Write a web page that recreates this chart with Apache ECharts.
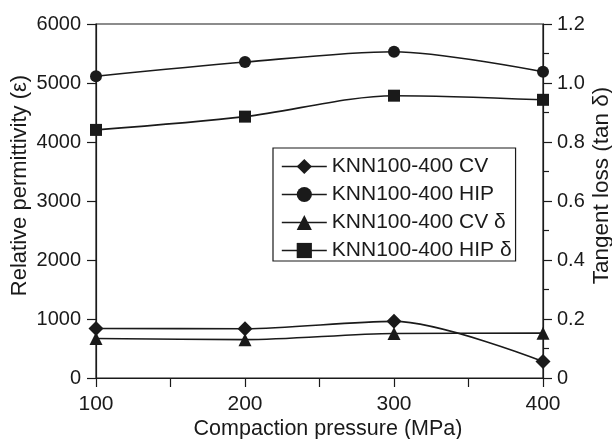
<!DOCTYPE html>
<html>
<head>
<meta charset="utf-8">
<script src="https://cdn.jsdelivr.net/npm/echarts@6/dist/echarts.min.js"></script>
<style>
html,body{margin:0;padding:0;background:#fff;}
#c{width:612px;height:439px;}
</style>
</head>
<body>
<div id="c"></div>
<script>
const pressures = [100, 200, 300, 400];
const cvPermittivity = [840, 835, 960, 280];
const hipPermittivity = [5115, 5355, 5530, 5190];
const cvLoss = [0.134, 0.130, 0.151, 0.152];
const hipLoss = [0.841, 0.886, 0.957, 0.943];
const leftTicks = [0, 1000, 2000, 3000, 4000, 5000, 6000];
const rightTicks = [0, 0.2, 0.4, 0.6, 0.8, 1.0, 1.2];
const seriesNames = ['KNN100-400 CV', 'KNN100-400 HIP', 'KNN100-400 CV δ', 'KNN100-400 HIP δ'];

const FONT = 'Liberation Sans, Arial, sans-serif';
const INK = '#1a1a1a';
const pair = (xs, ys) => xs.map((x, i) => [x, ys[i]]);

const chart = echarts.init(document.getElementById('c'));
const axisCommon = {
  axisLine: { show: true, lineStyle: { color: INK, width: 1.2 } },
  axisTick: { show: true, inside: false, length: 9, lineStyle: { color: INK, width: 1.2 } },
  splitLine: { show: false },
  axisLabel: { color: INK, fontFamily: FONT, fontSize: 20 },
  nameLocation: 'middle',
  nameMoveOverlap: false
};
const mk = (name, data, sym, size, yIdx) => ({
  name: name, type: 'line', yAxisIndex: yIdx, data: data,
  smooth: 0.3, symbol: sym, symbolSize: size,
  lineStyle: { color: INK, width: 1.6 },
  itemStyle: { color: INK },
  emphasis: { disabled: true }
});

chart.setOption({
  animation: false,
  backgroundColor: '#fff',
  grid: { left: 96, right: 69, top: 24, bottom: 61, containLabel: false, outerBoundsMode: 'none',
          show: true, borderColor: INK, borderWidth: 1.2 },
  legend: {
    orient: 'vertical', left: 273, top: 148,
    data: seriesNames,
    backgroundColor: '#fff',
    borderColor: INK, borderWidth: 1.2,
    padding: [8, 4, 0, 8],
    itemWidth: 45, itemHeight: 19, itemGap: 7,
    lineStyle: { width: 1.6 },
    textStyle: { color: INK, fontFamily: FONT, fontSize: 21 }
  },
  xAxis: Object.assign({}, axisCommon, {
    type: 'value', min: 100, max: 400, interval: 100,
    name: 'Compaction pressure (MPa)', nameGap: 40,
    nameTextStyle: { color: INK, fontFamily: FONT, fontSize: 21.5, padding: [0, 0, 0, 17] },
    minorTick: { show: true, splitNumber: 2, length: 9, lineStyle: { color: INK, width: 1.2 } },
    axisLabel: Object.assign({}, axisCommon.axisLabel, { fontSize: 21, margin: 16 })
  }),
  yAxis: [
    Object.assign({}, axisCommon, {
      type: 'value', min: leftTicks[0], max: leftTicks[leftTicks.length - 1], interval: 1000,
      name: 'Relative permittivity (ε)', nameGap: 65, nameRotate: 90,
      nameTextStyle: { color: INK, fontFamily: FONT, fontSize: 22, padding: [0, 0, 0, 31] },
      axisLabel: Object.assign({}, axisCommon.axisLabel, { margin: 15, formatter: v => String(v) })
    }),
    Object.assign({}, axisCommon, {
      type: 'value', position: 'right', min: rightTicks[0], max: rightTicks[rightTicks.length - 1], interval: 0.2,
      name: 'Tangent loss (tan δ)', nameGap: 47, nameRotate: 90,
      nameTextStyle: { color: INK, fontFamily: FONT, fontSize: 22.5, padding: [0, 0, 0, 31] },
      minorTick: { show: true, splitNumber: 2, length: 6, lineStyle: { color: INK, width: 1.2 } },
      axisLabel: Object.assign({}, axisCommon.axisLabel, { margin: 14,
        formatter: v => (v === 0 ? '0' : v.toFixed(1)) })
    })
  ],
  series: [
    mk(seriesNames[0], pair(pressures, cvPermittivity), 'diamond', 15, 0),
    mk(seriesNames[1], pair(pressures, hipPermittivity), 'circle', 12, 0),
    mk(seriesNames[2], pair(pressures, cvLoss), 'triangle', 13, 1),
    mk(seriesNames[3], pair(pressures, hipLoss), 'rect', 12, 1)
  ]
});
</script>
</body>
</html>
